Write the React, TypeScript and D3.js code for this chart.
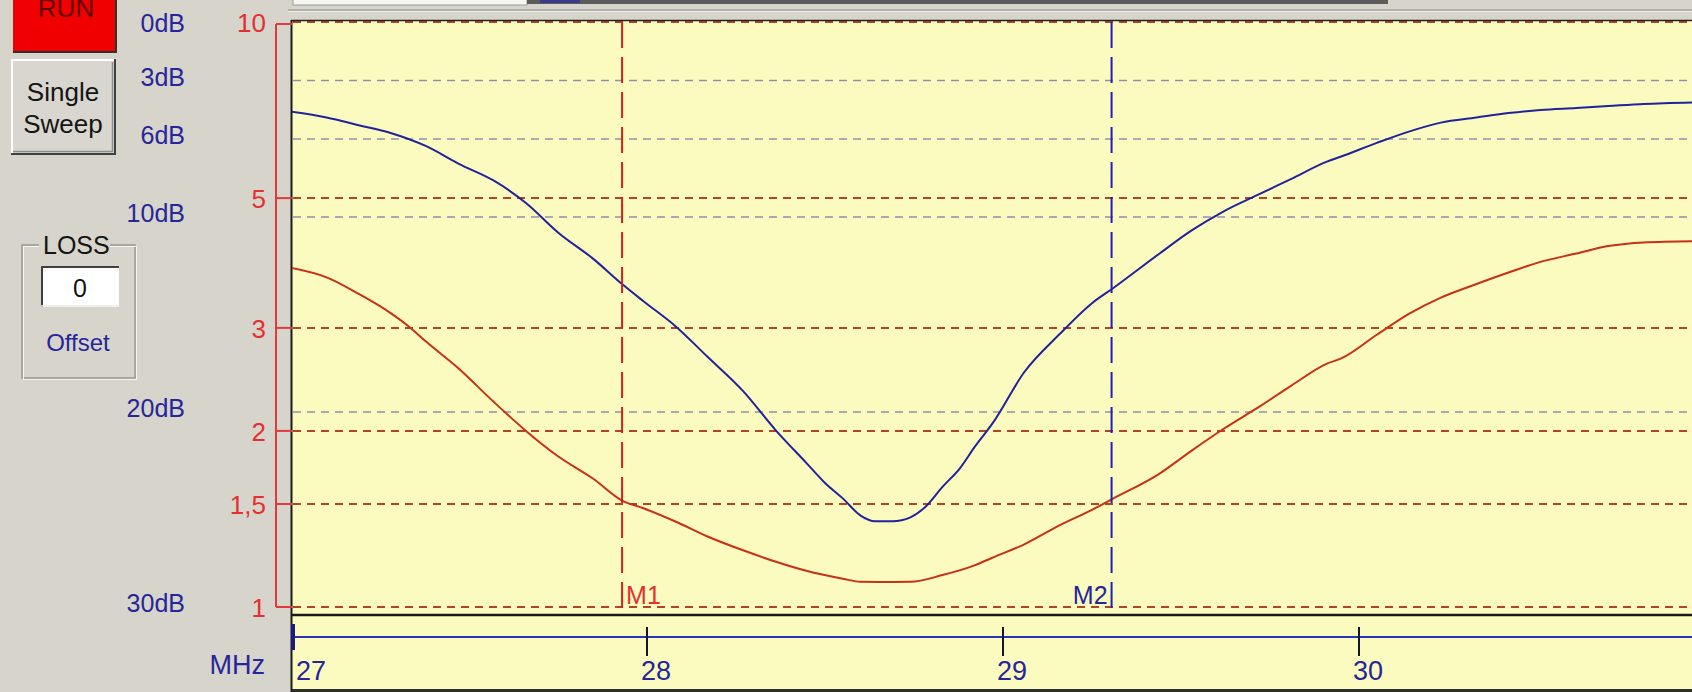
import React from "react";
import * as d3 from "d3";

const W = 1692;
const H = 692;

// VSWR trace (red)
const redFreq = [27.0, 27.1, 27.19, 27.28, 27.33, 27.38, 27.47, 27.57, 27.66, 27.75, 27.85, 27.93, 27.99, 28.08, 28.17, 28.27, 28.36, 28.45, 28.55, 28.6, 28.67, 28.74, 28.83, 28.92, 28.97, 29.06, 29.16, 29.25, 29.31, 29.44, 29.53, 29.62, 29.72, 29.81, 29.91, 29.95, 30.05, 30.14, 30.23, 30.33, 30.42, 30.51, 30.61, 30.7, 30.8, 30.94];
const redVswr = [3.8, 3.66, 3.43, 3.18, 3.02, 2.84, 2.56, 2.24, 2.0, 1.81, 1.655, 1.52, 1.475, 1.4, 1.32, 1.25, 1.196, 1.152, 1.118, 1.104, 1.103, 1.104, 1.134, 1.178, 1.214, 1.28, 1.38, 1.466, 1.533, 1.691, 1.851, 2.017, 2.2, 2.39, 2.606, 2.66, 2.92, 3.17, 3.38, 3.565, 3.73, 3.89, 4.02, 4.14, 4.2, 4.22];

// Return-loss trace (blue, dB)
const blueFreq = [27.0, 27.1, 27.19, 27.28, 27.38, 27.47, 27.57, 27.66, 27.75, 27.85, 27.93, 27.99, 28.08, 28.17, 28.27, 28.36, 28.45, 28.5, 28.55, 28.6, 28.64, 28.69, 28.74, 28.78, 28.83, 28.88, 28.92, 28.97, 29.06, 29.16, 29.25, 29.31, 29.44, 29.53, 29.62, 29.72, 29.81, 29.91, 29.95, 30.05, 30.14, 30.23, 30.33, 30.42, 30.51, 30.61, 30.7, 30.8, 30.94];
const blueRL = [4.6, 4.9, 5.29, 5.69, 6.37, 7.26, 8.14, 9.28, 10.79, 12.16, 13.44, 14.32, 15.6, 17.17, 18.93, 20.9, 22.66, 23.64, 24.43, 25.31, 25.6, 25.6, 25.4, 24.9, 23.84, 22.86, 21.8, 20.6, 17.95, 15.99, 14.42, 13.64, 11.87, 10.69, 9.71, 8.83, 8.04, 7.16, 6.9, 6.2, 5.62, 5.16, 4.9, 4.67, 4.51, 4.41, 4.31, 4.2, 4.12];

const vswrTicks = [10, 5, 3, 2, 1.5, 1];
const vswrTickLabels = ["10", "5", "3", "2", "1,5", "1"];
const dbGrid = [3, 6, 10, 20];
const dbTicks = [0, 3, 6, 10, 20, 30];
const dbTickLabels = ["0dB", "3dB", "6dB", "10dB", "20dB", "30dB"];
const freqTicks = [27, 28, 29, 30];
const freqTickLabels = ["27", "28", "29", "30"];
const markerFreqs = [27.93, 29.305];
const markerNames = ["M1", "M2"];

const FONT = "'Liberation Sans', Arial, sans-serif";
const NAVY = "#26269a";
const RED_TXT = "#e43030";
const BG = "#d6d4cb";
const YELLOW = "#fbfbbf";

export default function App() {
  const x = d3.scaleLinear().domain([27, 31]).range([291, 1715]);
  const yV = d3.scaleLog().domain([1, 10]).range([607, 22]);
  const yDb = d3.scaleLinear().domain([0, 30]).range([22, 607]);

  const redLine = d3
    .line<number>()
    .curve(d3.curveMonotoneX)
    .x((_, i) => x(redFreq[i]))
    .y((v) => yV(v))(redVswr) as string;
  const blueLine = d3
    .line<number>()
    .curve(d3.curveMonotoneX)
    .x((_, i) => x(blueFreq[i]))
    .y((v) => yDb(v))(blueRL) as string;

  const markerColors = ["#d42020", "#2020b8"];

  return (
    <div style={{ position: "absolute", left: 0, top: 0, width: W, height: H }}>
      <svg width={W} height={H} style={{ display: "block" }} fontFamily={FONT}>
        <defs>
          <clipPath id="plotclip">
            <rect x={292} y={22} width={W - 292} height={593} />
          </clipPath>
        </defs>
        <rect x={0} y={0} width={W} height={H} fill={BG} />

        {/* top strip controls */}
        <rect x={293} y={-1} width={234} height={6} fill="#f6f6f2" stroke="#9a9a9a" />
        <rect x={527} y={0} width={861} height={4} fill="#5c5c5c" />
        <rect x={540} y={0} width={40} height={3} fill="#3a3a8a" />
        <line x1={288} x2={W} y1={10} y2={10} stroke="#a4a4a0" strokeWidth={1.5} />
        <line x1={288} x2={W} y1={11.5} y2={11.5} stroke="#f0f0ec" strokeWidth={1} />

        {/* plot yellow panel */}
        <rect x={292} y={20} width={W - 292} height={670} fill={YELLOW} />
        <rect x={291} y={689} width={W - 291} height={3} fill="#2e2e2e" />

        {/* dB grid (grey-blue dashed) */}
        {dbGrid.map((d) => (
          <line
            key={"db" + d}
            x1={293}
            x2={W}
            y1={yDb(d)}
            y2={yDb(d)}
            stroke="#9090ac"
            strokeWidth={1.6}
            strokeDasharray="8 6"
          />
        ))}
        {/* VSWR grid (red dashed) */}
        {vswrTicks.map((v) => (
          <line
            key={"v" + v}
            x1={293}
            x2={W}
            y1={yV(v)}
            y2={yV(v)}
            stroke="#b44426"
            strokeWidth={2}
            strokeDasharray="8 6"
          />
        ))}
        {/* top border */}
        <line x1={291} x2={W} y1={20.5} y2={20.5} stroke="#202020" strokeWidth={1.5} />
        {/* bottom border of plot */}
        <line x1={291} x2={W} y1={615} y2={615} stroke="#1a1a1a" strokeWidth={2.5} />
        {/* left border */}
        <line x1={291.5} x2={291.5} y1={20} y2={692} stroke="#1a1a1a" strokeWidth={2} />

        {/* traces */}
        <g clipPath="url(#plotclip)">
          <path d={redLine} fill="none" stroke="#c83018" strokeWidth={2} />
          <path d={blueLine} fill="none" stroke="#22229a" strokeWidth={2} />
        </g>

        {/* markers */}
        {markerFreqs.map((f, i) => (
          <g key={markerNames[i]}>
            <line
              x1={x(f)}
              x2={x(f)}
              y1={22}
              y2={615}
              stroke={markerColors[i]}
              strokeWidth={2}
              strokeDasharray="26 9"
            />
            <text
              x={i === 0 ? x(f) + 4 : x(f) - 4}
              y={604}
              fontSize={25}
              fill={i === 0 ? RED_TXT : NAVY}
              textAnchor={i === 0 ? "start" : "end"}
            >
              {markerNames[i]}
            </text>
          </g>
        ))}

        {/* x axis */}
        <line x1={291} x2={W} y1={637} y2={637} stroke="#2a34b8" strokeWidth={2} />
        {freqTicks.map((t, i) => (
          <g key={"f" + t}>
            <line
              x1={x(t) + (i === 0 ? 2 : 0)}
              x2={x(t) + (i === 0 ? 2 : 0)}
              y1={i === 0 ? 624 : 627}
              y2={i === 0 ? 650 : 656}
              stroke={i === 0 ? "#1c1c7a" : "#151530"}
              strokeWidth={i === 0 ? 4 : 2}
            />
            <text
              x={Math.max(x(t) - 6, 296)}
              y={680}
              fontSize={27}
              fill={NAVY}
            >
              {freqTickLabels[i]}
            </text>
          </g>
        ))}
        <text x={265} y={674} fontSize={27} fill={NAVY} textAnchor="end">
          MHz
        </text>

        {/* red VSWR axis */}
        <line x1={276} x2={276} y1={yV(10) + 2} y2={yV(1)} stroke="#e03a3a" strokeWidth={2} />
        {vswrTicks.map((v, i) => (
          <g key={"vt" + v}>
            <line
              x1={276}
              x2={292}
              y1={yV(v) + (i === 0 ? 2 : 0)}
              y2={yV(v) + (i === 0 ? 2 : 0)}
              stroke="#e03a3a"
              strokeWidth={2}
            />
            <text x={266} y={yV(v) + 10} fontSize={26} fill={RED_TXT} textAnchor="end">
              {vswrTickLabels[i]}
            </text>
          </g>
        ))}

        {/* dB labels */}
        {dbTicks.map((d, i) => (
          <text
            key={"dbl" + d}
            x={185}
            y={Math.max(yDb(d) - 4, 23) + 9}
            fontSize={25}
            fill={NAVY}
            textAnchor="end"
          >
            {dbTickLabels[i]}
          </text>
        ))}

        {/* RUN button */}
        <rect x={13} y={-4} width={104} height={57} fill="#f00000" />
        <line x1={13} x2={117} y1={52} y2={52} stroke="#303030" strokeWidth={2} />
        <line x1={116} x2={116} y1={-4} y2={53} stroke="#303030" strokeWidth={2} />
        <text x={66} y={17} fontSize={26} fill="#600000" textAnchor="middle">
          RUN
        </text>

        {/* Single Sweep button */}
        <rect x={11} y={59} width={105} height={96} fill="#d8d6ce" />
        <line x1={11} x2={115} y1={60} y2={60} stroke="#ffffff" strokeWidth={2} />
        <line x1={12} x2={12} y1={59} y2={154} stroke="#ffffff" strokeWidth={2} />
        <line x1={11} x2={116} y1={154} y2={154} stroke="#404040" strokeWidth={2} />
        <line x1={115} x2={115} y1={59} y2={155} stroke="#404040" strokeWidth={2} />
        <line x1={13} x2={113} y1={151.5} y2={151.5} stroke="#8c8c8c" strokeWidth={1.5} />
        <line x1={112.5} x2={112.5} y1={62} y2={152} stroke="#8c8c8c" strokeWidth={1.5} />
        <text x={63} y={101} fontSize={26} fill="#141414" textAnchor="middle">
          Single
        </text>
        <text x={63} y={133} fontSize={26} fill="#141414" textAnchor="middle">
          Sweep
        </text>

        {/* LOSS group box */}
        <rect x={22} y={245} width={113} height={133} fill="none" stroke="#999994" strokeWidth={1.5} />
        <rect x={23.5} y={246.5} width={113} height={133} fill="none" stroke="#f4f4f0" strokeWidth={1} />
        <rect x={39} y={234} width={71} height={20} fill={BG} />
        <text x={43} y={254} fontSize={25} fill="#141414">
          LOSS
        </text>
        <rect x={41} y={266} width={78} height={41} fill="#ffffff" />
        <line x1={41} x2={119} y1={267} y2={267} stroke="#404040" strokeWidth={2} />
        <line x1={42} x2={42} y1={266} y2={307} stroke="#404040" strokeWidth={2} />
        <line x1={41} x2={119} y1={306} y2={306} stroke="#e8e8e4" strokeWidth={1.5} />
        <text x={80} y={297} fontSize={25} fill="#141414" textAnchor="middle">
          0
        </text>
        <text x={78} y={351} fontSize={24} fill={NAVY} textAnchor="middle">
          Offset
        </text>
      </svg>
    </div>
  );
}
